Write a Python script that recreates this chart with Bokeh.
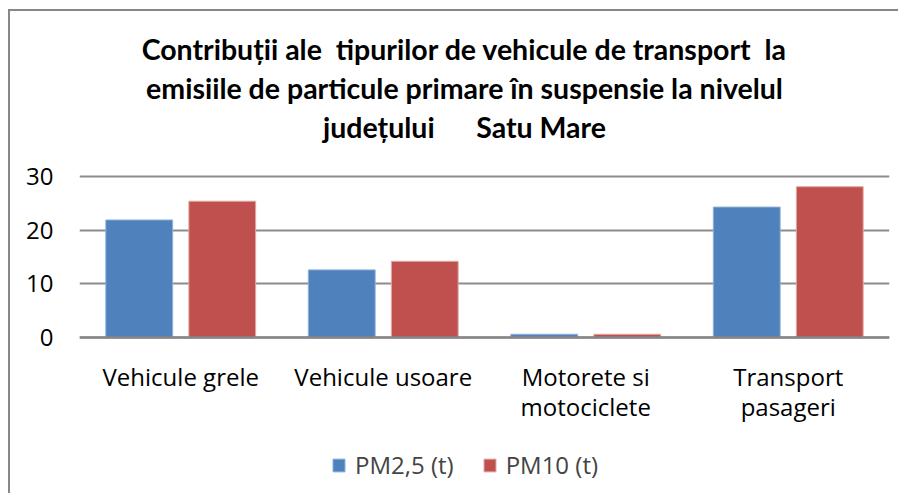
from bokeh.plotting import figure
from bokeh.models import FactorRange, Range1d, Legend, LegendItem, Label, FixedTicker
from bokeh.transform import dodge
from bokeh.embed import file_html
from bokeh.resources import INLINE

categories = ["Vehicule grele", "Vehicule usoare", "Motorete si\nmotociclete", "Transport\npasageri"]
pm25 = [21.9, 12.6, 0.6, 24.3]
pm10 = [25.4, 14.2, 0.6, 28.1]
series_names = ["PM2,5 (t)", "PM10 (t)"]
y_ticks = [0, 10, 20, 30]
NB = "\u00a0"
title_lines = [
    "Contribuții ale" + NB + " tipurilor de vehicule de transport" + NB + " la",
    "emisiile de particule primare în suspensie la nivelul",
    "județului" + NB * 5 + " Satu Mare",
]

FONT = "Open Sans"
TFONT = "Lato"
BLUE = "#4F81BD"
RED = "#C0504D"

# frame spans the whole canvas height; value axis shows 0-30 only
p = figure(
    width=890, height=484,
    x_range=FactorRange(*categories), y_range=Range1d(-29.44, 60.745),
    output_backend="svg", toolbar_location=None,
    min_border_left=69, min_border_right=11, min_border_top=0, min_border_bottom=0,
)
p.styles = {"margin-left": "8px", "margin-top": "9px",
            "border-left": "2px solid #878787", "border-top": "2px solid #878787"}
p.outline_line_color = None
p.background_fill_color = "white"
p.border_fill_color = "white"

data = dict(cat=categories, pm25=pm25, pm10=pm10)
r1 = p.vbar(x=dodge("cat", -0.205, range=p.x_range), top="pm25", width=0.33, source=data,
            fill_color=BLUE, line_color="#8DB0DA", line_width=1)
r2 = p.vbar(x=dodge("cat", 0.205, range=p.x_range), top="pm10", width=0.33, source=data,
            fill_color=RED, line_color="#E0A9A7", line_width=1)

p.xgrid.grid_line_color = None
p.ygrid.grid_line_color = "#8c8c8c"
p.ygrid.grid_line_width = 2
p.ygrid.ticker = FixedTicker(ticks=y_ticks)

ya = p.yaxis[0]
ya.ticker = FixedTicker(ticks=y_ticks)
ya.axis_line_color = None
ya.major_tick_line_color = None
ya.minor_tick_line_color = None
ya.major_tick_out = 0
ya.major_tick_in = 0
ya.major_label_standoff = 26
ya.major_label_text_font = FONT
ya.major_label_text_font_size = "24px"
ya.major_label_text_color = "black"

xa = p.xaxis[0]
xa.fixed_location = 0
xa.axis_line_color = "#868686"
xa.axis_line_width = 2.5
xa.major_tick_line_color = None
xa.major_tick_out = 0
xa.major_tick_in = 0
xa.major_label_standoff = 22
xa.major_label_text_font = FONT
xa.major_label_text_font_size = "24px"
xa.major_label_text_color = "black"
xa.major_label_text_line_height = 0.92

legend = Legend(
    items=[LegendItem(label=series_names[0], renderers=[r1]),
           LegendItem(label=series_names[1], renderers=[r2])],
    orientation="horizontal", location=(252, 14),
    label_text_font=FONT, label_text_font_size="24px",
    glyph_width=15, glyph_height=16, label_standoff=9, spacing=28,
    padding=0, margin=0, border_line_color=None, background_fill_alpha=0,
)
p.add_layout(legend, "center")

for i, t in enumerate(title_lines):
    p.add_layout(Label(x=385, y=447 - 39 * i, x_units="screen", y_units="screen",
                       text=t, text_align="center", text_baseline="middle",
                       text_font=TFONT, text_font_style="bold", text_font_size="28.5px",
                       text_color="black"))

open("out.html", "w").write(file_html(p, INLINE))
